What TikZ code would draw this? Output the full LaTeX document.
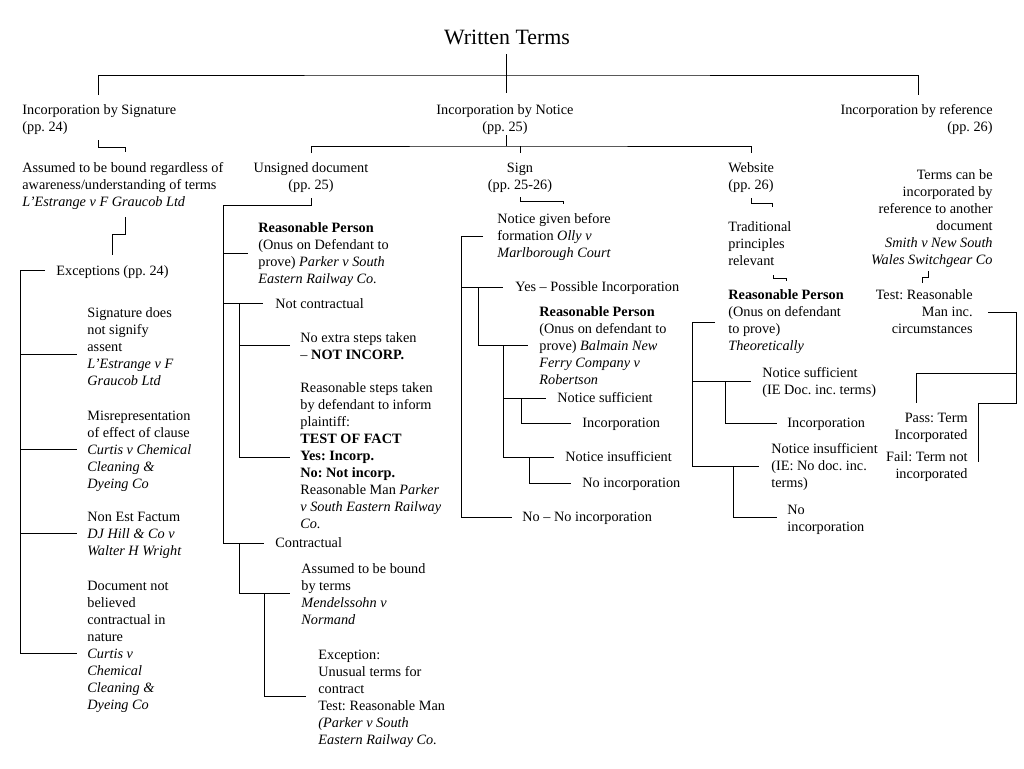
\documentclass[tikz,border=0pt]{standalone}
\usepackage{fontspec}
\setmainfont{Liberation Serif}
\frenchspacing
\newcommand{\bodyfont}{\fontsize{10.7}{12.75}\selectfont\frenchspacing}
\newcommand{\titlefont}{\fontsize{16.4}{19}\selectfont}
\begin{document}
\begin{tikzpicture}[x=0.75pt,y=-0.75pt,line width=0.6pt,
  tl/.style={anchor=base west,inner sep=0pt,align=left,font=\bodyfont},
  tr/.style={anchor=base east,inner sep=0pt,align=right,font=\bodyfont},
  tc/.style={anchor=base,inner sep=0pt,align=center,font=\bodyfont},
  conn/.style={draw=black}]
\useasboundingbox (0,0) rectangle (1024,768);

% ---------- nodes (y = baseline of the last line) ----------
\node[tc,font=\titlefont] (title) at (507,44) {Written Terms};

\node[tl] (sig) at (22,131) {Incorporation by Signature\\(pp. 24)};
\node[tc] (notice) at (505,131) {Incorporation by Notice\\(pp. 25)};
\node[tr] (ref) at (993,131) {Incorporation by reference\\(pp. 26)};

\node[tl] (sigA) at (22,206) {Assumed to be bound regardless of\\awareness/understanding of terms\\\textit{L’Estrange v F Graucob Ltd}};
\node[tl] (exc) at (56,275) {Exceptions (pp. 24)};
\node[tl] (exc1) at (87,385.5) {Signature does\\not signify\\assent\\\textit{L’Estrange v F}\\\textit{Graucob Ltd}};
\node[tl] (exc2) at (87,488.5) {Misrepresentation\\of effect of clause\\\textit{Curtis v Chemical}\\\textit{Cleaning \&}\\\textit{Dyeing Co}};
\node[tl] (exc3) at (87,555.5) {Non Est Factum\\\textit{DJ Hill \& Co v}\\\textit{Walter H Wright}};
\node[tl] (exc4) at (87,709.5) {Document not\\believed\\contractual in\\nature\\\textit{Curtis v}\\\textit{Chemical}\\\textit{Cleaning \&}\\\textit{Dyeing Co}};

\node[tc] (uns) at (311,189) {Unsigned document\\(pp. 25)};
\node[tl] (unsRP) at (258,283) {\textbf{Reasonable Person}\\(Onus on Defendant to\\prove) \textit{Parker v South}\\\textit{Eastern Railway Co.}};
\node[tl] (notc) at (275,308.5) {Not contractual};
\node[tl] (noext) at (300,359.5) {No extra steps taken\\– \textbf{NOT INCORP.}};
\node[tl] (rsteps) at (300,528.5) {Reasonable steps taken\\by defendant to inform\\plaintiff:\\\textbf{TEST OF FACT}\\\textbf{Yes: Incorp.}\\\textbf{No: Not incorp.}\\Reasonable Man \textit{Parker}\\\textit{v South Eastern Railway}\\\textit{Co.}};
\node[tl] (contr) at (275,547.5) {Contractual};
\node[tl] (bound) at (301,624.5) {Assumed to be bound\\by terms\\\textit{Mendelssohn v}\\\textit{Normand}};
\node[tl] (except) at (318,744.5) {Exception:\\Unusual terms for\\contract\\Test: Reasonable Man\\\textit{(Parker v South}\\\textit{Eastern Railway Co.}};

\node[tc] (sign) at (520,189) {Sign\\(pp. 25-26)};
\node[tl] (before) at (497,257.5) {Notice given before\\formation \textit{Olly v}\\\textit{Marlborough Court}};
\node[tl] (yes) at (515,291.5) {Yes – Possible Incorporation};
\node[tl] (signRP) at (539,384.5) {\textbf{Reasonable Person}\\(Onus on defendant to\\prove) \textit{Balmain New}\\\textit{Ferry Company v}\\\textit{Robertson}};
\node[tl] (suff) at (557,402.5) {Notice sufficient};
\node[tl] (inc) at (582,427.5) {Incorporation};
\node[tl] (insuff) at (565,461.5) {Notice insufficient};
\node[tl] (noinc) at (582,487.5) {No incorporation};
\node[tl] (nono) at (522,521.5) {No – No incorporation};

\node[tl] (web) at (728,189) {Website\\(pp. 26)};
\node[tl] (trad) at (728,265.5) {Traditional\\principles\\relevant};
\node[tl] (webRP) at (728,350.5) {\textbf{Reasonable Person}\\(Onus on defendant\\to prove)\\\textit{Theoretically}};
\node[tl] (wsuff) at (762,394.5) {Notice sufficient\\(IE Doc. inc. terms)};
\node[tl] (winc) at (787,427.5) {Incorporation};
\node[tl] (winsuff) at (771,487.5) {Notice insufficient\\(IE: No doc. inc.\\terms)};
\node[tl] (wnoinc) at (787,531.5) {No\\incorporation};

\node[tr] (terms) at (993,264.5) {Terms can be\\incorporated by\\reference to another\\document\\\textit{Smith v New South}\\\textit{Wales Switchgear Co}};
\node[tr] (test) at (973,333.5) {Test: Reasonable\\Man inc.\\circumstances};
\node[tr] (pass) at (968,439) {Pass: Term\\Incorporated};
\node[tr] (fail) at (968,478) {Fail: Term not\\incorporated};

% ---------- connector points ----------
\coordinate (t1) at (506,54);   \coordinate (t2) at (506,93);
\coordinate (topL) at (98,95);  \coordinate (topM) at (506,75); \coordinate (topR) at (918,95);

\coordinate (s1) at (98,140);  \coordinate (s2) at (125,152);
\coordinate (s3) at (125,217); \coordinate (s4) at (112,255);
\coordinate (e0) at (45,270);  \coordinate (eT) at (20,270);
\coordinate (e1) at (77,354);  \coordinate (e2) at (77,449);
\coordinate (e3) at (77,533);  \coordinate (e4) at (77,653);

\coordinate (n1) at (506,135); \coordinate (n2) at (506,146);
\coordinate (nU) at (311,153); \coordinate (nS) at (520,153); \coordinate (nW) at (751,153);

\coordinate (u1) at (311,198); \coordinate (u2) at (223,205);
\coordinate (uRP) at (248,253); \coordinate (uNC) at (263,303); \coordinate (uC) at (264,543);
\coordinate (uNC0) at (239,303); \coordinate (uNE) at (290,345); \coordinate (uRS) at (290,457);
\coordinate (uC0) at (239,543); \coordinate (uB) at (290,593);
\coordinate (uB0) at (264,593); \coordinate (uE) at (306,696);

\coordinate (g1) at (520,197); \coordinate (g2) at (563,204);
\coordinate (gB) at (483,236); \coordinate (gT) at (461,236);
\coordinate (gY) at (503,287); \coordinate (gNN) at (512,517);
\coordinate (gY0) at (478,287); \coordinate (gRP) at (528,345);
\coordinate (gR0) at (503,345); \coordinate (gS) at (546,398); \coordinate (gI) at (554,457);
\coordinate (gS0) at (521,398); \coordinate (gSI) at (571,423);
\coordinate (gI0) at (529,457); \coordinate (gNI) at (571,483);

\coordinate (w1) at (751,198); \coordinate (w2) at (772,207);
\coordinate (w3) at (773,275); \coordinate (w4) at (786,281);
\coordinate (wA) at (715,322); \coordinate (wT) at (692,322);
\coordinate (wS) at (751,381); \coordinate (wI) at (759,466);
\coordinate (wS0) at (725,381); \coordinate (wSI) at (777,423);
\coordinate (wI0) at (733,466); \coordinate (wNI) at (777,517);

\coordinate (r1) at (928,271); \coordinate (r2) at (922,283);
\coordinate (rA) at (988,312); \coordinate (rT) at (1016,312);
\coordinate (rJ) at (1016,373); \coordinate (rF) at (978,462); \coordinate (rP) at (916,403);

% ---------- connectors ----------
\draw[conn] (t1) -- (t2);
\draw[conn] (topL) |- (topM) -| (topR);

\draw[conn] (s1) -- ++(0,7) -| (s2);
\draw[conn] (s3) -- ++(0,17) -| (s4);
\draw[conn] (e0) -- (eT) |- (e4);
\draw[conn] (eT |- e1) -- (e1);
\draw[conn] (eT |- e2) -- (e2);
\draw[conn] (eT |- e3) -- (e3);

\draw[conn] (n1) -- (n2);
\draw[conn] (nU) |- (n2) -| (nW);
\draw[conn] (nS |- n2) -- (nS);

\draw[conn] (u1) |- (u2) |- (uC);
\draw[conn] (u2 |- uRP) -- (uRP);
\draw[conn] (u2 |- uNC) -- (uNC);
\draw[conn] (uNC0) |- (uRS);
\draw[conn] (uNC0 |- uNE) -- (uNE);
\draw[conn] (uC0) |- (uB);
\draw[conn] (uB0) |- (uE);

\draw[conn] (g1) -- ++(0,4) -| (g2);
\draw[conn] (gB) -- (gT) |- (gNN);
\draw[conn] (gT |- gY) -- (gY);
\draw[conn] (gY0) |- (gRP);
\draw[conn] (gR0) |- (gI);
\draw[conn] (gR0 |- gS) -- (gS);
\draw[conn] (gS0) |- (gSI);
\draw[conn] (gI0) |- (gNI);

\draw[conn] (w1) -- ++(0,5) -| (w2);
\draw[conn] (w3) -- ++(0,3) -| (w4);
\draw[conn] (wA) -- (wT) |- (wI);
\draw[conn] (wT |- wS) -- (wS);
\draw[conn] (wS0) |- (wSI);
\draw[conn] (wI0) |- (wNI);

\draw[conn] (r1) -- ++(0,6) -| (r2);
\draw[conn] (rA) -- (rT) |- (rF |- rP) -- (rF);
\draw[conn] (rJ) -| (rP);
\end{tikzpicture}
\end{document}
